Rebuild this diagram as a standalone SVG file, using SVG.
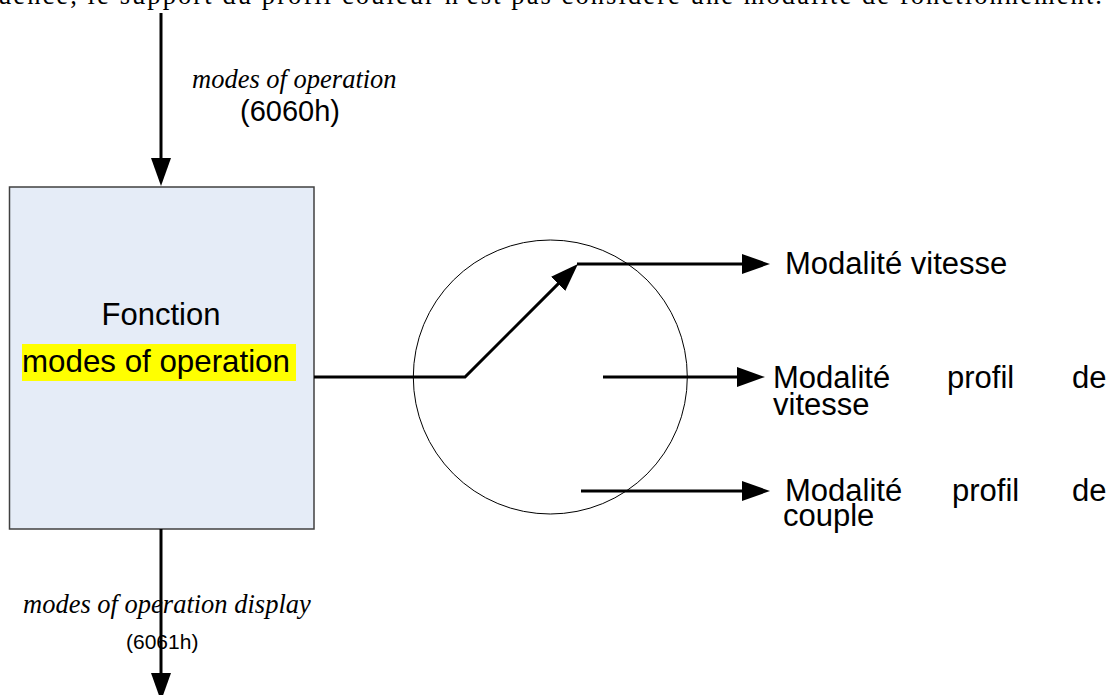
<svg xmlns="http://www.w3.org/2000/svg" width="1106" height="695" viewBox="0 0 1106 695">
  <style>
    .sans { font-family: "Liberation Sans", Arial, sans-serif; fill: #000; }
    .serif { font-family: "Liberation Serif", "Times New Roman", serif; fill: #000; }
    .it { font-family: "Liberation Serif", "Times New Roman", serif; font-style: italic; fill: #000; }
    .conn { fill: none; stroke: #000; stroke-width: 3; }
  </style>
  <defs>
    <marker id="arrow" markerUnits="userSpaceOnUse" markerWidth="28" markerHeight="20" refX="18" refY="10" orient="auto">
      <path d="M0,0 L28,10 L0,20 z" fill="#000"/>
    </marker>
  </defs>
  <rect width="1106" height="695" fill="#fff"/>

  <text class="serif" x="-2" y="4" font-size="26.5" textLength="1104" lengthAdjust="spacing">uence, le support du profil couleur n'est pas considéré une modalité de fonctionnement.</text>

  <g id="fonction">
    <rect x="9.5" y="187" width="304.5" height="342" fill="#e5ecf7" stroke="#404040" stroke-width="1.5"/>
    <text class="sans" x="161" y="325" font-size="31" text-anchor="middle">Fonction</text>
    <rect x="22" y="344" width="274" height="37" fill="#ffff00"/>
    <text class="sans" x="22" y="372" font-size="31.3">modes of operation</text>
  </g>

  <g id="selector">
    <circle cx="550.3" cy="377" r="137" fill="none" stroke="#000" stroke-width="1"/>
  </g>

  <g id="connectors">
    <path class="conn" d="M161,13 V176" marker-end="url(#arrow)"/>
    <path class="conn" d="M161,529 V691" marker-end="url(#arrow)"/>
    <path class="conn" d="M314,377 H465 L570.9,271.1" marker-end="url(#arrow)"/>
    <path class="conn" d="M577,264 H760" marker-end="url(#arrow)"/>
    <path class="conn" d="M603,377 H755" marker-end="url(#arrow)"/>
    <path class="conn" d="M581,491 H760" marker-end="url(#arrow)"/>
  </g>

  <g id="label-in">
    <text class="it" x="192" y="88" font-size="26.5">modes of operation</text>
    <text class="sans" x="240" y="121" font-size="29">(6060h)</text>
  </g>

  <g id="label-out">
    <text class="it" x="23" y="613" font-size="26.5">modes of operation display</text>
    <text class="sans" x="126" y="649" font-size="21">(6061h)</text>
  </g>

  <g id="mode-vitesse">
    <text class="sans" x="785" y="274" font-size="31">Modalité vitesse</text>
  </g>

  <g id="mode-profil-vitesse">
    <text class="sans" font-size="31"><tspan x="773" y="388">Modalité</tspan><tspan x="947" y="388">profil</tspan><tspan x="1072" y="388">de</tspan></text>
    <text class="sans" x="773" y="415" font-size="31">vitesse</text>
  </g>

  <g id="mode-profil-couple">
    <text class="sans" font-size="31"><tspan x="785" y="501">Modalité</tspan><tspan x="952" y="501">profil</tspan><tspan x="1072" y="501">de</tspan></text>
    <text class="sans" x="783" y="526" font-size="31">couple</text>
  </g>
</svg>
